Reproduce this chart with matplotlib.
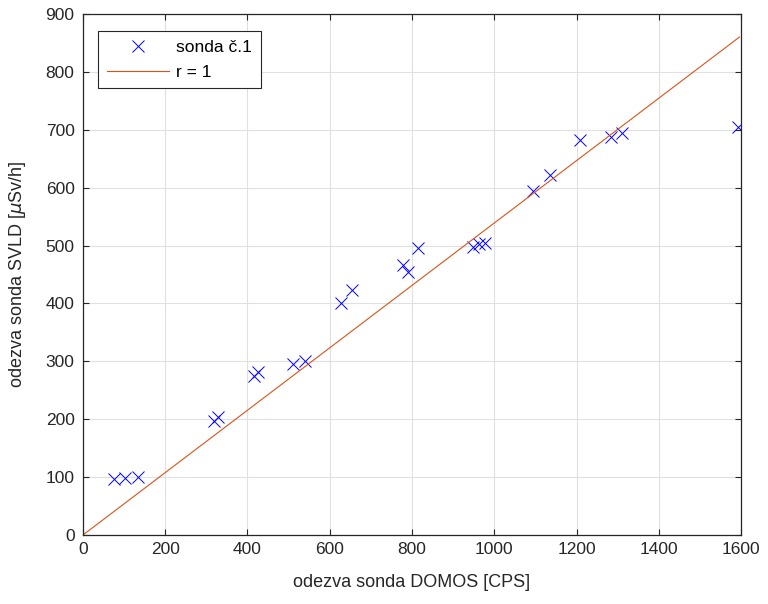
import numpy as np
import matplotlib.pyplot as plt

## Measured data: DOMOS response [CPS] vs SVLD response [uSv/h]

domos = [75, 102, 134, 318, 328, 417, 426, 510, 540, 627, 655,
         777, 789, 814, 949, 963, 977, 1093, 1136, 1209, 1283, 1311, 1593]
svld = [96, 99, 101, 197, 204, 274, 282, 296, 300, 401, 424,
        467, 454, 496, 498, 502, 504, 595, 622, 683, 688, 695, 704]

## Reference line r = 1

line_x = [0, 1596]
slope = 0.539

plt.rcParams['font.family'] = ['Liberation Sans', 'DejaVu Sans']
text_col = '#262626'

fig = plt.figure(figsize=(7.68, 6.04), dpi=100)
ax = fig.add_axes([0.108, 0.1142, 0.857, 0.8626])

ax.plot(domos, svld, 'x', color='blue', markersize=8, markeredgewidth=0.7,
        label='sonda č.1')
ax.plot(line_x, np.array(line_x) * slope, '-', color='#D95319', linewidth=0.8,
        label='r = 1')

ax.set_xlim(0, 1600)
ax.set_ylim(0, 900)
ax.set_xticks(np.arange(0, 1601, 200))
ax.set_yticks(np.arange(0, 901, 100))
ax.grid(True, color='#e0e0e0', linewidth=0.8)
ax.set_axisbelow(True)
ax.tick_params(direction='in', top=True, right=True, colors=text_col,
               labelsize=12.5, length=4)
ax.tick_params(axis='x', pad=5)
ax.tick_params(axis='y', pad=6)
for s in ax.spines.values():
    s.set_color(text_col)
    s.set_linewidth(0.9)

ax.set_xlabel('odezva sonda DOMOS [CPS]', color=text_col, fontsize=13, labelpad=12)
ax.set_ylabel(r'odezva sonda SVLD [$\mu$Sv/h]', color=text_col, fontsize=13, labelpad=13)

leg = ax.legend(loc='upper left', bbox_to_anchor=(0.0228, 0.967), borderaxespad=0,
                fancybox=False, edgecolor=text_col, framealpha=1, fontsize=12.5,
                handlelength=3.6, handletextpad=0.4, borderpad=0.5,
                labelspacing=0.55)
leg.get_frame().set_linewidth(0.8)

fig.savefig('out.png', dpi=100)
